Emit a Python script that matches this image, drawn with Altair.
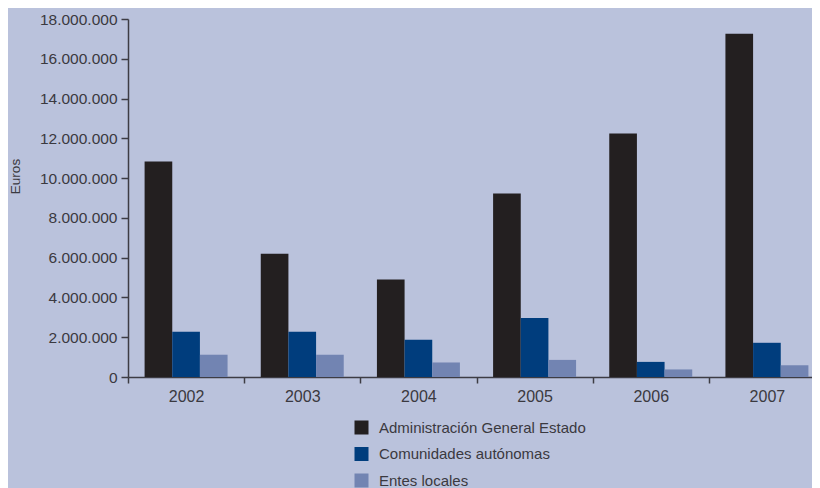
import altair as alt
import pandas as pd

years = ["2002", "2003", "2004", "2005", "2006", "2007"]
series = ["Administración General Estado", "Comunidades autónomas", "Entes locales"]
age = [10830000, 6200000, 4900000, 9220000, 12240000, 17260000]
ccaa = [2270000, 2270000, 1870000, 2970000, 760000, 1720000]
entes = [1120000, 1120000, 730000, 860000, 380000, 590000]
colors = ["#231f20", "#003d7d", "#7284b2"]
y_ticks = [0, 2000000, 4000000, 6000000, 8000000, 10000000, 12000000, 14000000, 16000000, 18000000]

rows = []
for i, y in enumerate(years):
    for s, vals in zip(series, [age, ccaa, entes]):
        rows.append({"year": y, "serie": s, "value": vals[i]})
df = pd.DataFrame(rows)

axis_color = "#3d3c44"
text_color = "#3a3940"
font = "Liberation Sans"

chart = alt.Chart(df).mark_bar().encode(
    x=alt.X("year:N", sort=years,
            scale=alt.Scale(paddingInner=0, paddingOuter=0),
            axis=alt.Axis(title=None, labelAngle=0, tickBand="extent",
                          labelFontSize=16, labelPadding=5, tickSize=6,
                          labelColor=text_color, labelFont=font,
                          domainColor=axis_color, tickColor=axis_color,
                          domainWidth=1.5, tickWidth=1.5)),
    xOffset=alt.XOffset("serie:N", sort=series,
                        scale=alt.Scale(paddingInner=0, paddingOuter=0.6)),
    y=alt.Y("value:Q", scale=alt.Scale(domain=[0, 18000000], nice=False),
            axis=alt.Axis(title="Euros", values=y_ticks, grid=False,
                          labelExpr="replace(format(datum.value, ','), regexp(',', 'g'), '.')",
                          labelFontSize=15.5, labelPadding=4, tickSize=7,
                          labelColor=text_color, labelFont=font,
                          titleFont=font, titleFontSize=13.5, titleFontWeight="normal",
                          titleColor=text_color, titleAngle=270,
                          titleX=-113, titleY=157, titleAlign="center",
                          titleBaseline="middle",
                          domainColor=axis_color, tickColor=axis_color,
                          domainWidth=1.5, tickWidth=1.5)),
    color=alt.Color("serie:N", sort=series,
                    scale=alt.Scale(domain=series, range=colors),
                    legend=alt.Legend(title=None, orient="none",
                                      legendX=226, legendY=401,
                                      symbolType="square", symbolSize=196,
                                      symbolStrokeWidth=0, symbolOpacity=1,
                                      labelFontSize=15, labelFont=font,
                                      labelColor=text_color, labelOffset=10,
                                      labelLimit=400,
                                      rowPadding=10.5, direction="vertical")),
).properties(
    width=697,
    height=358,
    autosize=alt.AutoSizeParams(type="none"),
    padding={"left": 120, "top": 11, "right": -13, "bottom": 111},
    background="#bac2dc",
).configure_view(stroke=None)

chart.save("out.html", embed_options={"renderer": "svg", "actions": False})
